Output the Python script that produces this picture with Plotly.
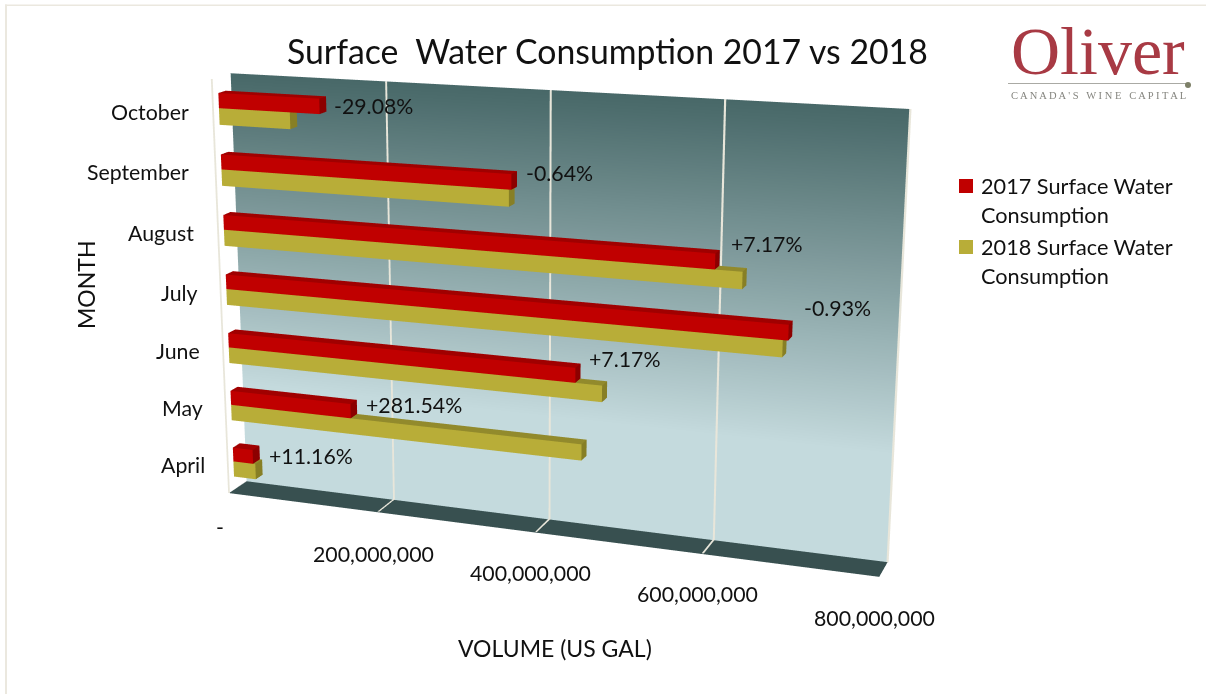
import numpy as np
import plotly.graph_objects as go

# Chart data
months = ["April", "May", "June", "July", "August", "September", "October"]
volume_2017 = [27e6, 160e6, 442e6, 686e6, 602e6, 365e6, 130e6]
volume_2018 = [30e6, 450e6, 474e6, 680e6, 633e6, 362e6, 92e6]
change_labels = ["+11.16%", "+281.54%", "+7.17%", "-0.93%", "+7.17%", "-0.64%", "-29.08%"]
volume_ticks = [0, 200e6, 400e6, 600e6, 800e6]
volume_tick_labels = ["-", "200,000,000", "400,000,000", "600,000,000", "800,000,000"]
series_names = ["2017 Surface Water<br>Consumption", "2018 Surface Water<br>Consumption"]
axis_titles = ["MONTH", "VOLUME (US GAL)"]

FONT = "Lato"
W, H = 1206, 694
X_MAX = 800e6

# Perspective of the box: (volume, depth, category height) -> screen position
anchors = [
    ((0, 1, 0), (245, 482)), ((1, 1, 0), (887, 563)), ((1, 1, 7), (909, 108)), ((0, 1, 7), (232, 74)),
    ((0, 0, 0), (230, 493)), ((1, 0, 0), (879, 578)), ((0, 0, 7), (210, 79)),
    ((.25, 1, 0), (394, 499)), ((.5, 1, 0), (549, 518)), ((.75, 1, 0), (715, 541)),
    ((.25, 0, 0), (379, 512)), ((.5, 0, 0), (537, 532)), ((.75, 0, 0), (702, 554)),
    ((.25, 1, 7), (385, 82)), ((.5, 1, 7), (553, 90)), ((.75, 1, 7), (726, 99)),
]
rows = []
for (a, b, c), (u, v) in anchors:
    h = [a, b, c, 1]
    rows.append(h + [0] * 4 + [-u * t for t in h])
    rows.append([0] * 4 + h + [-v * t for t in h])
P = np.linalg.svd(np.array(rows, float))[2][-1].reshape(3, 4)
if P[2] @ np.array([.5, .5, 3.5, 1]) < 0:
    P = -P

# Camera space for a 45 degree field of view centred on the canvas
focal = (H / 2) / np.tan(np.pi / 8)
Q = np.vstack([(P[0] - W / 2 * P[2]) / focal, (P[1] - H / 2 * P[2]) / focal, P[2]])
Q = Q * 2 / np.linalg.norm(Q[:, 0])
c_vol, c_depth, c_cat, c_off = Q.T

# Scene axes: x carries the volume alone, y and z carry depth and category height
ez = c_cat / np.linalg.norm(c_cat)
ex = np.cross(c_depth, c_cat)
ex = ex / np.linalg.norm(ex) * np.sign(ex @ c_vol)
ey = np.cross(ez, ex)
R = np.column_stack([ex, ey, ez])
origin = Q @ np.array([.5, .5, 3.5, 1])


def to_scene(vol, depth, cat):
    cam = c_vol * (vol / X_MAX) + c_depth * depth + c_cat * cat + c_off
    m = R.T @ (cam - origin)
    return vol, m[1], m[2]


def dict3(v):
    return dict(x=float(v[0]), y=float(v[1]), z=float(v[2]))


eye = R.T @ (-origin)
center = R.T @ (np.array([0, 0, origin[2]]) - origin)
up = R.T @ np.array([0, -1, 0])
FLAT = dict(ambient=1, diffuse=0, specular=0, roughness=1, fresnel=0)


def mesh(quads, colors, name):
    xs, ys, zs, i, j, k, fc = [], [], [], [], [], [], []
    for q, col in zip(quads, colors):
        n = len(xs)
        for p in q:
            a, b, c = to_scene(*p)
            xs.append(a); ys.append(b); zs.append(c)
        i += [n, n]; j += [n + 1, n + 2]; k += [n + 2, n + 3]
        fc += [col, col]
    return go.Mesh3d(x=xs, y=ys, z=zs, i=i, j=j, k=k, facecolor=fc, flatshading=True, name=name,
                     lighting=FLAT, hoverinfo="skip", showscale=False)


def box(v, c0, c1, d0=.31, d1=.70):
    return [
        [(0, d0, c0), (v, d0, c0), (v, d0, c1), (0, d0, c1)],
        [(0, d0, c1), (v, d0, c1), (v, d1, c1), (0, d1, c1)],
        [(v, d0, c0), (v, d1, c0), (v, d1, c1), (v, d0, c1)],
    ]


def bars(values, c_low, c_high, shades, name):
    quads, cols = [], []
    for idx, v in enumerate(values):
        quads += box(v, idx + c_low, idx + c_high)
        cols += shades
    return mesh(quads, cols, name)


traces = []

# Back wall with its vertical colour ramp
stops = [(0, (196, 218, 221)), (.25, (196, 218, 221)), (1, (72, 104, 104))]
wall_x, wall_y, wall_z, wall_c, wi, wj, wk = [], [], [], [], [], [], []
levels = np.linspace(0, 7, 29)
for lv in levels:
    t = lv / 7
    rgb = [np.interp(t, [s[0] for s in stops], [s[1][n] for s in stops]) for n in range(3)]
    for v in (0, X_MAX):
        a, b, c = to_scene(v, 1, lv)
        wall_x.append(a); wall_y.append(b); wall_z.append(c)
        wall_c.append("rgb(%d,%d,%d)" % tuple(rgb))
for n in range(len(levels) - 1):
    a = 2 * n
    wi += [a, a]; wj += [a + 1, a + 3]; wk += [a + 3, a + 2]
traces.append(go.Mesh3d(x=wall_x, y=wall_y, z=wall_z, i=wi, j=wj, k=wk, vertexcolor=wall_c,
                        lighting=FLAT, hoverinfo="skip", name="wall"))

# Floor
traces.append(mesh([[(0, 0, 0), (X_MAX, 0, 0), (X_MAX, 1, 0), (0, 1, 0)]], ["#385050"], "floor"))

# Gridlines on wall and floor, plus the cream box edges
LINE = "#e8e6da"
hw = 1.2e6
grid = []
for v in volume_ticks[1:4]:
    grid.append([(v - hw, .995, 0), (v + hw, .995, 0), (v + hw, .995, 7), (v - hw, .995, 7)])
    grid.append([(v - hw, 0, .012), (v + hw, 0, .012), (v + hw, 1, .012), (v - hw, 1, .012)])
grid.append([(X_MAX - hw, .995, 0), (X_MAX + hw, .995, 0), (X_MAX + hw, .995, 7), (X_MAX - hw, .995, 7)])
grid.append([(-hw, 0, 0), (hw, 0, 0), (hw, 0, 7), (-hw, 0, 7)])
traces.append(mesh(grid, [LINE] * len(grid), "grid"))

# Bars
traces.append(bars(volume_2017, .5, .745, ["#c00000", "#a00000", "#8c0000"], "2017"))
traces.append(bars(volume_2018, .23, .5, ["#b8ad38", "#928a2c", "#877f25"], "2018"))

fig = go.Figure(traces)

notes = []


def text(s, x, y, size=21.3, color="#111111", family=FONT, angle=0, anchor="center"):
    notes.append(dict(text=s, x=x / W, y=1 - y / H, xref="paper", yref="paper", showarrow=False, textangle=angle,
                      xanchor=anchor, yanchor="middle", font=dict(size=size, color=color, family=family)))


text("Surface  Water Consumption 2017 vs 2018", 607, 51, 33.8)
for s, pos in zip(months, [(183, 465), (182, 408), (178, 351), (180, 293), (161, 233), (138, 172), (150, 112)]):
    text(s, *pos)
for s, pos in zip(change_labels, [(311, 456), (414, 405), (625, 359), (837, 308), (767, 244), (559, 173), (374, 106)]):
    text(s, *pos)
for s, pos in zip(volume_tick_labels, [(220, 527), (373, 554), (530, 573), (697, 594), (874, 618)]):
    text(s, *pos)
text(axis_titles[0], 86, 285, 23, angle=-90)
text(axis_titles[1], 555, 648, 23)

# Series key
first, second = [n.split("<br>") for n in series_names]
text(first[0], 979, 186, 21.7, anchor="left")
text(first[1], 979, 215, 21.7, anchor="left")
text(second[0], 979, 247, 21.7, anchor="left")
text(second[1], 979, 276, 21.7, anchor="left")

# Town wordmark
text("Oliver", 1098, 51, 68, "#a83a44", "Liberation Serif")
text("C A N A D A ' S   W I N E   C A P I T A L", 1098, 96, 10.5, "#85857f", "Liberation Serif")


def rect(x0, y0, x1, y1, color):
    return dict(type="rect", xref="paper", yref="paper", x0=x0 / W, x1=x1 / W, y0=1 - y0 / H, y1=1 - y1 / H,
                fillcolor=color, line=dict(width=0))


frame = "#ebe8df"
shapes = [
    rect(5, 4.5, W, 6, frame),
    rect(5, 4.5, 7, H, frame),
    rect(959, 179, 973, 193, "#c00000"),
    rect(959, 240, 973, 254, "#b8ad38"),
    rect(1008, 83, 1186, 84, "#aaaaa4"),
    dict(type="circle", xref="paper", yref="paper", x0=1185 / W, x1=1191 / W, y0=1 - 88 / H, y1=1 - 82 / H,
         fillcolor="#7d8068", line=dict(width=0)),
]

R_SCENE = 4
hidden = dict(visible=False, showspikes=False)
x_pad = .05 * X_MAX
fig.update_layout(
    width=W, height=H, margin=dict(l=0, r=0, t=0, b=0), paper_bgcolor="white", annotations=notes, shapes=shapes,
    font=dict(family=FONT), showlegend=False,
    scene=dict(
        domain=dict(x=[0, 1], y=[0, 1]), dragmode="orbit", bgcolor="rgba(0,0,0,0)",
        xaxis=dict(range=[-x_pad, X_MAX + x_pad], **hidden),
        yaxis=dict(range=[-R_SCENE, R_SCENE], **hidden),
        zaxis=dict(range=[-R_SCENE, R_SCENE], **hidden),
        aspectmode="manual",
        aspectratio=dict(x=float((ex @ c_vol) * 1.1), y=2 * R_SCENE, z=2 * R_SCENE),
        camera=dict(eye=dict3(eye), center=dict3(center), up=dict3(up), projection=dict(type="perspective")),
    ),
)

fig.write_html("out.html")
